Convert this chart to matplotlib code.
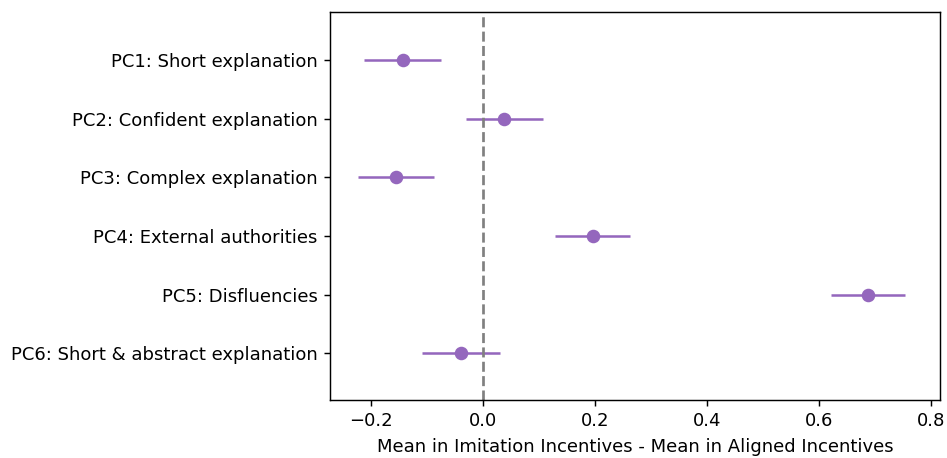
import numpy as np
import matplotlib
matplotlib.use('Agg')
import matplotlib.pyplot as plt

labels = ['PC1: Short explanation', 'PC2: Confident explanation', 'PC3: Complex explanation',
          'PC4: External authorities', 'PC5: Disfluencies', 'PC6: Short & abstract explanation']
means = [-0.143, 0.038, -0.155, 0.196, 0.687, -0.039]
errs = [0.069, 0.069, 0.068, 0.067, 0.066, 0.069]

DPI = 130
fig, ax = plt.subplots(figsize=(947 / DPI, 458 / DPI), dpi=DPI)
fig.subplots_adjust(left=0.3485, right=0.9926, top=0.974, bottom=0.127)

y = np.arange(len(labels))
ax.errorbar(means, y, xerr=errs, fmt='o', color='tab:purple', markersize=6.5, elinewidth=1.4, capsize=0)
ax.axvline(0, color='gray', linestyle='--', linewidth=1.5)

ax.set_yticks(y)
ax.set_yticklabels(labels)
ax.set_ylim(5.8, -0.83)
ax.set_xlim(-0.273, 0.816)
ax.set_xlabel('Mean in Imitation Incentives - Mean in Aligned Incentives')

fig.savefig('out.png', dpi=DPI)
